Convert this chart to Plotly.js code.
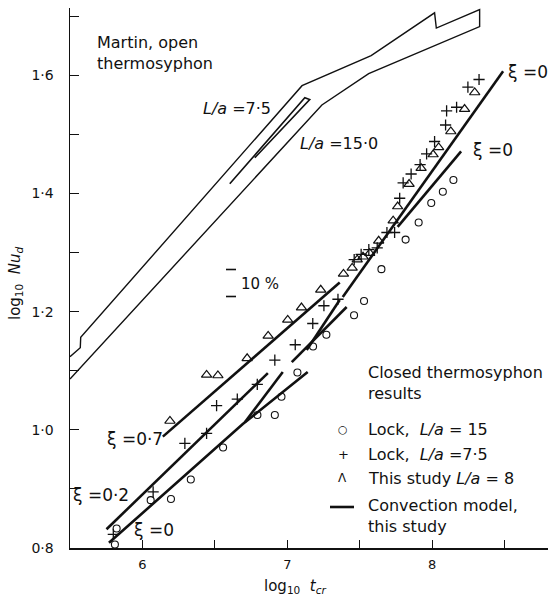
<!DOCTYPE html>
<html><head><meta charset="utf-8">
<script src="https://cdn.plot.ly/plotly-3.0.1.min.js"></script>
<style>html,body{margin:0;padding:0;background:#fff}</style>
</head><body><div id="chart" style="width:552px;height:600px"></div>
<script>
// ---- Data (log10 t_cr, log10 Nu_d) ----
// Martin, open thermosyphon band (outline, L/a = 7.5 top edge, L/a = 15.0 lower edge)
const martinX = [5.5, 5.571, 5.574, 7.102, 7.579, 8.017, 8.029, 8.328, 8.328, 7.562, 7.239, 5.5];
const martinY = [1.1237, 1.139, 1.1566, 1.5825, 1.6334, 1.7058, 1.680, 1.7114, 1.6825, 1.6029, 1.5498, 1.0859];
// thin inner loop between the two Martin curves
const martinLoopX = [6.603, 7.121, 7.155, 6.776];
const martinLoopY = [1.4164, 1.5622, 1.5589, 1.4605];

// Lock, L/a = 15 (circles)
const lock15X = [5.810, 5.822, 6.057, 6.197, 6.334, 6.557, 6.794, 6.914, 6.960, 7.070, 7.178, 7.270, 7.461, 7.530, 7.650, 7.817, 7.907, 7.994, 8.074, 8.147];
const lock15Y = [0.806, 0.833, 0.881, 0.883, 0.916, 0.970, 1.025, 1.025, 1.056, 1.097, 1.141, 1.161, 1.194, 1.218, 1.272, 1.322, 1.351, 1.384, 1.403, 1.423];

// Lock, L/a = 7.5 (plus)
const lock75X = [5.799, 6.074, 6.293, 6.443, 6.512, 6.655, 6.793, 6.914, 7.055, 7.176, 7.253, 7.350, 7.462, 7.510, 7.563, 7.621, 7.688, 7.741, 7.776, 7.800, 7.855, 7.917, 7.962, 8.017, 8.093, 8.100, 8.169, 8.247, 8.324];
const lock75Y = [0.823, 0.895, 0.977, 0.994, 1.041, 1.052, 1.077, 1.118, 1.144, 1.180, 1.210, 1.221, 1.288, 1.297, 1.305, 1.308, 1.334, 1.334, 1.392, 1.418, 1.433, 1.449, 1.467, 1.488, 1.516, 1.540, 1.546, 1.580, 1.593];

// This study, L/a = 8 (triangles)
const studyX = [6.190, 6.443, 6.521, 6.723, 6.868, 7.003, 7.098, 7.231, 7.388, 7.448, 7.483, 7.523, 7.569, 7.631, 7.731, 7.762, 7.841, 7.924, 8.007, 8.045, 8.129, 8.224, 8.294];
const studyY = [1.015, 1.093, 1.092, 1.121, 1.159, 1.186, 1.207, 1.237, 1.264, 1.274, 1.288, 1.293, 1.299, 1.320, 1.354, 1.378, 1.416, 1.443, 1.466, 1.478, 1.505, 1.543, 1.571];

// Convection model, this study (line segments)
const modelXi07X = [6.141, 7.362],           modelXi07Y = [0.9885, 1.2495];
const modelXi02X = [5.752, 6.866],           modelXi02Y = [0.8317, 1.0961];
const modelXi0LowX = [5.769, 6.693, 7.141],  modelXi0LowY = [0.8088, 1.0097, 1.0978];
const modelStepAX = [6.707, 6.969],          modelStepAY = [1.0130, 1.0978];
const modelMidX = [7.031, 7.410],            modelMidY = [1.1147, 1.2079];
const modelStepBX = [7.134, 7.362],          modelStepBY = [1.1351, 1.2198];
const modelXi0UpX = [7.383, 8.490],          modelXi0UpY = [1.2250, 1.6068];
const modelXi0RightX = [7.762, 8.200],       modelXi0RightY = [1.3436, 1.4712];

// Axis ticks
const xTickVals = [6, 7, 8];
const xTickText = ["6", "7", "8"];
const xMinorVals = [6.5, 7.5, 8.5];
const yTickVals = [0.8, 1.0, 1.2, 1.4, 1.6];
const yTickText = ["0·8", "1·0", "1·2", "1·4", "1·6"];
const yMinorVals = [0.9, 1.1, 1.3, 1.5, 1.7];

// ---- Layout geometry ----
const W = 552, H = 600, ML = 70, MR = 4, MT = 8, MB = 52;
const XR = [5.5, 8.8], YR = [0.8, 1.714];
const px2x = p => XR[0] + (p - ML) / (W - ML - MR) * (XR[1] - XR[0]);
const py2y = p => YR[0] + (H - MB - p) / (H - MT - MB) * (YR[1] - YR[0]);
const pxp = p => (p - ML) / (W - ML - MR);
const pyp = p => (H - MB - p) / (H - MT - MB);

const INK = "#111";
const FONT = "DejaVu Sans, Liberation Sans, sans-serif";

const modelLine = {color: INK, width: 2.6};
function seg(x, y) {
  return {x, y, type: "scatter", mode: "lines", line: modelLine, hoverinfo: "skip", showlegend: false};
}

const traces = [
  {x: martinX, y: martinY, type: "scatter", mode: "lines", line: {color: INK, width: 1.4}, showlegend: false},
  {x: martinLoopX, y: martinLoopY, type: "scatter", mode: "lines", line: {color: INK, width: 1.6}, showlegend: false},
  seg(modelXi07X, modelXi07Y),
  seg(modelXi02X, modelXi02Y),
  seg(modelXi0LowX, modelXi0LowY),
  seg(modelStepAX, modelStepAY),
  seg(modelMidX, modelMidY),
  seg(modelStepBX, modelStepBY),
  seg(modelXi0UpX, modelXi0UpY),
  seg(modelXi0RightX, modelXi0RightY),
  {x: lock15X, y: lock15Y, type: "scatter", mode: "markers", name: "Lock, L/a = 15",
   marker: {symbol: "circle-open", size: 7, color: INK, line: {width: 1.1}}, showlegend: false},
  {x: lock75X, y: lock75Y, type: "scatter", mode: "markers", name: "Lock, L/a = 7.5",
   marker: {symbol: "cross-thin-open", size: 8, color: INK, line: {width: 1.3}}, showlegend: false},
  {x: studyX, y: studyY, type: "scatter", mode: "markers", name: "This study L/a = 8",
   marker: {symbol: "triangle-up-open", size: 9, color: INK, line: {width: 1.2}}, showlegend: false}
];

function txt(text, px, py, opts) {
  return Object.assign({
    text, xref: "paper", yref: "paper", x: pxp(px), y: pyp(py),
    xanchor: "left", yanchor: "middle", showarrow: false, align: "left",
    font: {family: FONT, size: 16, color: INK}
  }, opts || {});
}

const annotations = [
  txt("Martin, open<br>thermosyphon", 95, 53),
  txt("<i>L/a</i> =7·5", 273, 108, {xanchor: "right"}),
  txt("<i>L/a</i> =15·0", 298, 143),
  txt("ξ =0", 506, 72, {font: {family: FONT, size: 17, color: INK}}),
  txt("ξ =0", 471, 150, {font: {family: FONT, size: 17, color: INK}}),
  txt("10 %", 239, 284, {font: {family: FONT, size: 15, color: INK}}),
  txt("ξ =0·7", 105, 439, {font: {family: FONT, size: 17, color: INK}}),
  txt("ξ =0·2", 71, 495, {font: {family: FONT, size: 17, color: INK}}),
  txt("ξ =0", 132, 530, {font: {family: FONT, size: 17, color: INK}}),
  txt("Closed thermosyphon<br>results", 366, 383),
  txt("○", 336, 429, {font: {family: FONT, size: 11, color: INK}}),
  txt("Lock,  <i>L/a</i> = 15", 366, 429),
  txt("+", 336, 454, {font: {family: FONT, size: 13, color: INK}}),
  txt("Lock,  <i>L/a</i> =7·5", 366, 454),
  txt("Λ", 336, 478, {font: {family: FONT, size: 12, color: INK}}),
  txt("This study <i>L/a</i> = 8", 366, 478),
  txt("Convection model,<br>this study", 366, 516),
  txt("log<sub>10</sub>  <i>Nu<sub>d</sub></i>", 15, 283, {xanchor: "center", textangle: -90, font: {family: FONT, size: 15, color: INK}}),
  txt("log<sub>10</sub>  <i>t<sub>cr</sub></i>", 295, 586, {xanchor: "center", font: {family: FONT, size: 15, color: INK}})
];

const shapes = [
  // legend line key
  {type: "line", xref: "paper", yref: "paper", x0: pxp(330), x1: pxp(354), y0: pyp(507), y1: pyp(507), line: {color: INK, width: 2.6}},
  // 10 % scale bar marks
  {type: "line", xref: "x", yref: "y", x0: px2x(226), x1: px2x(236), y0: py2y(269.5), y1: py2y(269.5), line: {color: INK, width: 1.6}},
  {type: "line", xref: "x", yref: "y", x0: px2x(226), x1: px2x(236), y0: py2y(296.5), y1: py2y(296.5), line: {color: INK, width: 1.6}}
];

const layout = {
  width: W, height: H,
  margin: {l: ML, r: MR, t: MT, b: MB, pad: 0},
  paper_bgcolor: "#fff", plot_bgcolor: "#fff",
  showlegend: false,
  font: {family: FONT, color: INK},
  xaxis: {
    range: XR, showgrid: false, zeroline: false, showline: true, linecolor: INK, linewidth: 1.5,
    ticks: "inside", ticklen: 8, tickwidth: 1, tickcolor: INK,
    tickmode: "array", tickvals: xTickVals, ticktext: xTickText,
    minor: {tickmode: "array", tickvals: xMinorVals, ticks: "inside", ticklen: 8, tickwidth: 1, tickcolor: INK, showgrid: false},
    tickfont: {family: FONT, size: 13, color: INK}, ticklabelstandoff: 4
  },
  yaxis: {
    range: YR, showgrid: false, zeroline: false, showline: true, linecolor: INK, linewidth: 1.5,
    ticks: "inside", ticklen: 9, tickwidth: 1, tickcolor: INK,
    tickmode: "array", tickvals: yTickVals, ticktext: yTickText,
    minor: {tickmode: "array", tickvals: yMinorVals, ticks: "inside", ticklen: 9, tickwidth: 1, tickcolor: INK, showgrid: false},
    tickfont: {family: FONT, size: 14, color: INK}, ticklabelstandoff: 12
  },
  annotations, shapes
};

Plotly.newPlot("chart", traces, layout, {staticPlot: true, displayModeBar: false});
</script></body></html>
